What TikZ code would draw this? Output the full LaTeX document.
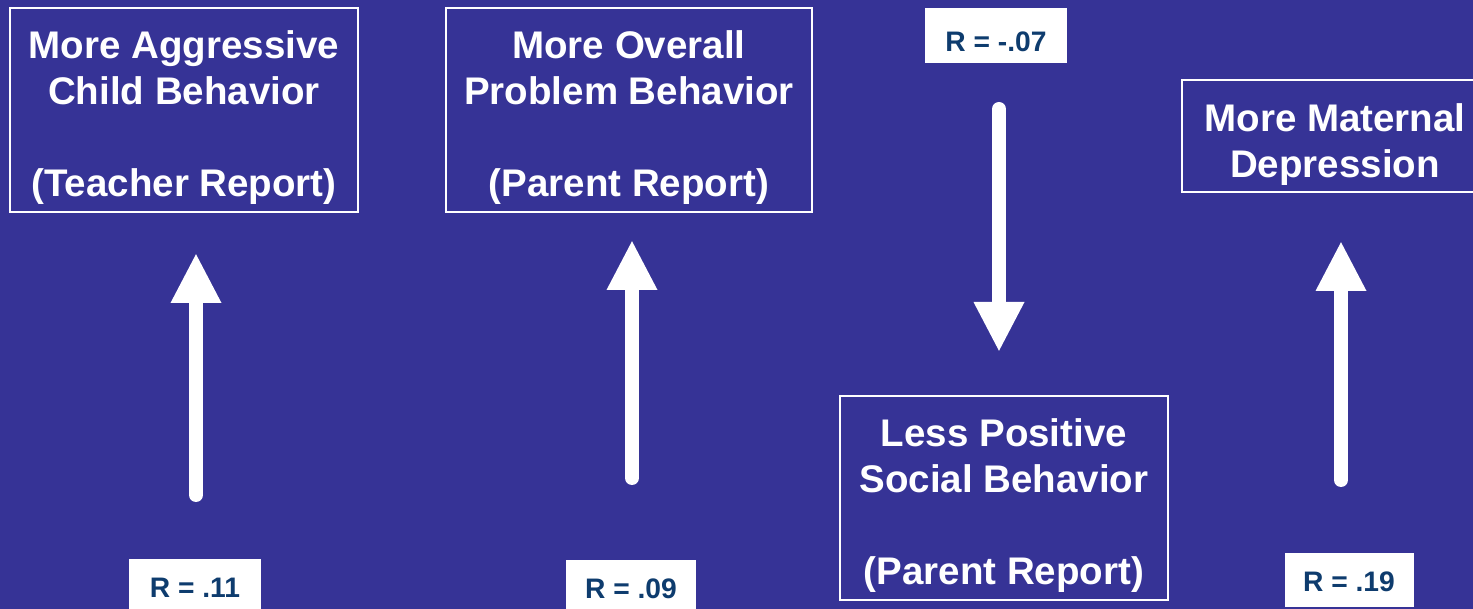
\documentclass[tikz,border=0pt]{standalone}
\usepackage{fontspec}
\setmainfont{Liberation Sans}
\usetikzlibrary{arrows.meta}
\definecolor{bgblue}{RGB}{54,51,150}
\definecolor{rtext}{RGB}{14,60,110}
\newcommand{\topstrut}[1]{\rule{0pt}{#1}}
\tikzset{
  bigbox/.style={draw=white, line width=2pt, text=white, align=center,
    font=\fontsize{38.5}{46}\selectfont\bfseries, inner sep=0pt},
  rbox/.style={fill=white, draw=none, text=rtext, inner sep=0pt,
    font=\fontsize{28.2}{32}\selectfont\bfseries},
  bigarrow/.style={draw=white, line width=14pt, line cap=round,
    -{Triangle[width=47pt,length=50pt]}}
}
\begin{document}
\begin{tikzpicture}[x=1pt,y=-1pt]
\useasboundingbox (0,0) rectangle (1473,609);
\clip (0,0) rectangle (1473,609);
\fill[bgblue] (0,0) rectangle (1473,609);

% boxes
\node[bigbox, minimum width=348pt, minimum height=204pt] (agg) at (184,110)
  {\topstrut{42pt}More Aggressive\\Child Behavior\\ \\(Teacher Report)};
\node[bigbox, minimum width=366pt, minimum height=204pt] (ovr) at (629,110)
  {\topstrut{42pt}More Overall\\Problem Behavior\\ \\(Parent Report)};
\node[bigbox, minimum width=328pt, minimum height=204pt] (soc) at (1004,498)
  {\topstrut{42pt}Less Positive\\Social Behavior\\ \\(Parent Report)};
\node[bigbox, minimum width=306pt, minimum height=112pt] (dep) at (1335,136)
  {\topstrut{44pt}More Maternal\\Depression};

% R labels
\node[rbox, minimum width=132pt, minimum height=58pt] (r1) at (195,588) {R = .11};
\node[rbox, minimum width=130pt, minimum height=58pt] (r2) at (631,589) {R = .09};
\node[rbox, minimum width=142pt, minimum height=55pt] (r3) at (996,36) {\topstrut{32pt}R = -.07};
\node[rbox, minimum width=129pt, minimum height=54pt] (r4) at (1349,580) {\topstrut{24pt}R = .19};

% arrows
\coordinate (a1s) at (196,495);
\coordinate (a1e) at (196,253);
\coordinate (a2s) at (632,478);
\coordinate (a2e) at (632,240);
\coordinate (a3s) at (999,109);
\coordinate (a3e) at (999,352);
\coordinate (a4s) at (1341,480);
\coordinate (a4e) at (1341,241);
\draw[bigarrow] (a1s) -- (a1e);
\draw[bigarrow] (a2s) -- (a2e);
\draw[bigarrow] (a3s) -- (a3e);
\draw[bigarrow] (a4s) -- (a4e);
\end{tikzpicture}
\end{document}
